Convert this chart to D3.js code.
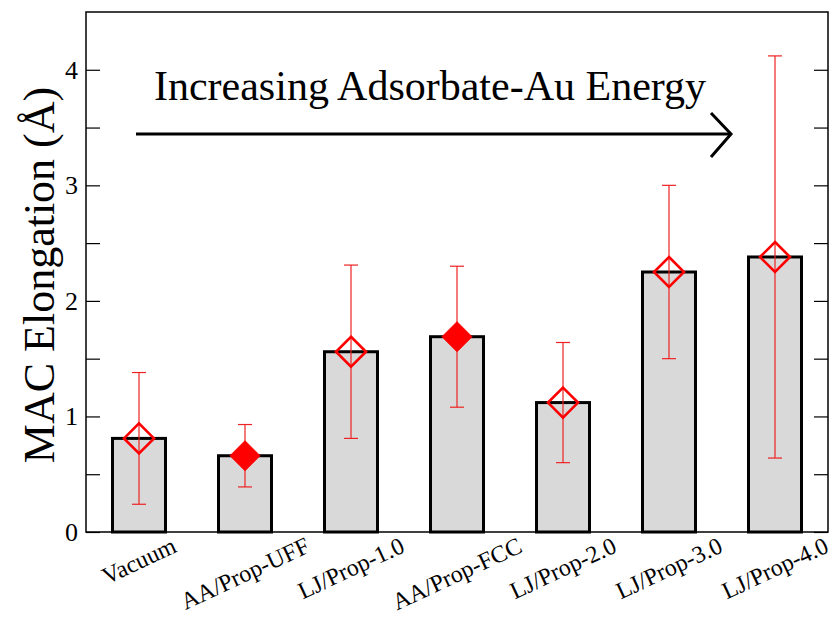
<!DOCTYPE html>
<html>
<head>
<meta charset="utf-8">
<script src="https://cdn.jsdelivr.net/npm/d3@7"></script>
<style>
  body { margin: 0; background: #fff; }
  svg text { font-family: "Liberation Serif", "Times New Roman", serif; fill: #000; }
</style>
</head>
<body>
<div id="chart"></div>
<script>
// MAC elongation per adsorbate model

// Data
const categories = ['Vacuum', 'AA/Prop-UFF', 'LJ/Prop-1.0', 'AA/Prop-FCC', 'LJ/Prop-2.0', 'LJ/Prop-3.0', 'LJ/Prop-4.0'];
const elongation = [0.81, 0.66, 1.56, 1.69, 1.12, 2.25, 2.38];
const errLow = [0.24, 0.39, 0.81, 1.08, 0.60, 1.50, 0.64];
const errHigh = [1.38, 0.93, 2.31, 2.30, 1.64, 3.00, 4.12];
const filledMarker = [false, true, false, true, false, false, false];
const yTickValues = [0, 0.5, 1, 1.5, 2, 2.5, 3, 3.5, 4];
const yLabelValues = [0, 1, 2, 3, 4];

const width = 838;
const height = 621;
const plot = { left: 86, right: 828, top: 12, bottom: 532 };

const rows = categories.map((c, i) => ({
  name: c, value: elongation[i], lo: errLow[i], hi: errHigh[i], filled: filledMarker[i]
}));

const svg = d3.select('#chart').append('svg')
  .attr('width', width)
  .attr('height', height);

const x = d3.scaleBand()
  .domain(categories)
  .range([plot.left, plot.right])
  .paddingInner(0.5)
  .paddingOuter(0.25);

const y = d3.scaleLinear()
  .domain([0, 4.5])
  .range([plot.bottom, plot.top]);

// Bars
svg.append('g').selectAll('rect')
  .data(rows)
  .enter()
  .append('rect')
  .attr('x', d => x(d.name))
  .attr('y', d => y(d.value))
  .attr('width', x.bandwidth())
  .attr('height', d => y(0) - y(d.value))
  .attr('fill', '#d9d9d9')
  .attr('stroke', '#000')
  .attr('stroke-width', 3);

// Error bars
const cx = d => x(d.name) + x.bandwidth() / 2;
const err = svg.append('g').attr('stroke', '#ee2222').attr('stroke-width', 1.2);
err.selectAll('line.stem')
  .data(rows).enter().append('line')
  .attr('class', 'stem')
  .attr('x1', cx).attr('x2', cx)
  .attr('y1', d => y(d.lo)).attr('y2', d => y(d.hi));
['lo', 'hi'].forEach(k => {
  err.selectAll('line.cap-' + k)
    .data(rows).enter().append('line')
    .attr('class', 'cap-' + k)
    .attr('x1', d => cx(d) - 7).attr('x2', d => cx(d) + 7)
    .attr('y1', d => y(d[k])).attr('y2', d => y(d[k]));
});

// Diamond markers
const diamond = 'M0,-15L15,0L0,15L-15,0Z';
svg.append('g').selectAll('path')
  .data(rows).enter().append('path')
  .attr('d', diamond)
  .attr('transform', d => `translate(${cx(d)},${y(d.value)})`)
  .attr('fill', d => d.filled ? '#ff0000' : 'none')
  .attr('stroke', '#ff0000')
  .attr('stroke-width', d => d.filled ? 1 : 2.6);

// Axes (ticks point inward)
const leftAxis = d3.axisLeft(y)
  .tickValues(yTickValues)
  .tickSize(-14)
  .tickPadding(8)
  .tickFormat(d => yLabelValues.includes(d) ? d3.format('d')(d) : '');
const gl = svg.append('g')
  .attr('transform', `translate(${plot.left},0)`)
  .call(leftAxis);
gl.select('.domain').remove();
gl.selectAll('.tick line').attr('stroke', '#000').attr('stroke-width', 1.2);
gl.selectAll('.tick text')
  .attr('x', -8)
  .style('font-size', '26px');

const rightAxis = d3.axisRight(y)
  .tickValues(yTickValues)
  .tickSize(-14)
  .tickFormat('');
const gr = svg.append('g')
  .attr('transform', `translate(${plot.right},0)`)
  .call(rightAxis);
gr.select('.domain').remove();
gr.selectAll('.tick line').attr('stroke', '#000').attr('stroke-width', 1.2);

// Frame
svg.append('rect')
  .attr('x', plot.left).attr('y', plot.top)
  .attr('width', plot.right - plot.left)
  .attr('height', plot.bottom - plot.top)
  .attr('fill', 'none')
  .attr('stroke', '#000')
  .attr('stroke-width', 1.5);

// Category labels, rotated
const labelAngle = -25;
const labels = svg.append('g').selectAll('text')
  .data(rows).enter().append('text')
  .attr('text-anchor', 'middle')
  .attr('dominant-baseline', 'central')
  .style('font-size', '24px')
  .text(d => d.name);
labels.each(function(d) {
  const len = this.getComputedTextLength();
  const rad = Math.abs(labelAngle) * Math.PI / 180;
  const half = (len * Math.sin(rad) + 18 * Math.cos(rad)) / 2;
  d3.select(this).attr('transform', `translate(${cx(d)},${536 + half}) rotate(${labelAngle})`);
});

// Y axis title
svg.append('text')
  .attr('transform', `translate(54,${(plot.top + plot.bottom) / 2 + 3}) rotate(-90)`)
  .attr('text-anchor', 'middle')
  .style('font-size', '44px')
  .text('MAC Elongation (Å)');

// Annotation arrow
svg.append('text')
  .attr('x', 430).attr('y', 100)
  .attr('text-anchor', 'middle')
  .style('font-size', '42px')
  .text('Increasing Adsorbate-Au Energy');
const arrow = svg.append('g').attr('stroke', '#000').attr('stroke-width', 3).attr('fill', 'none');
arrow.append('line').attr('x1', 136).attr('x2', 729).attr('y1', 134).attr('y2', 134);
arrow.append('path').attr('d', 'M711,113L731,134L711,157');
</script>
</body>
</html>
